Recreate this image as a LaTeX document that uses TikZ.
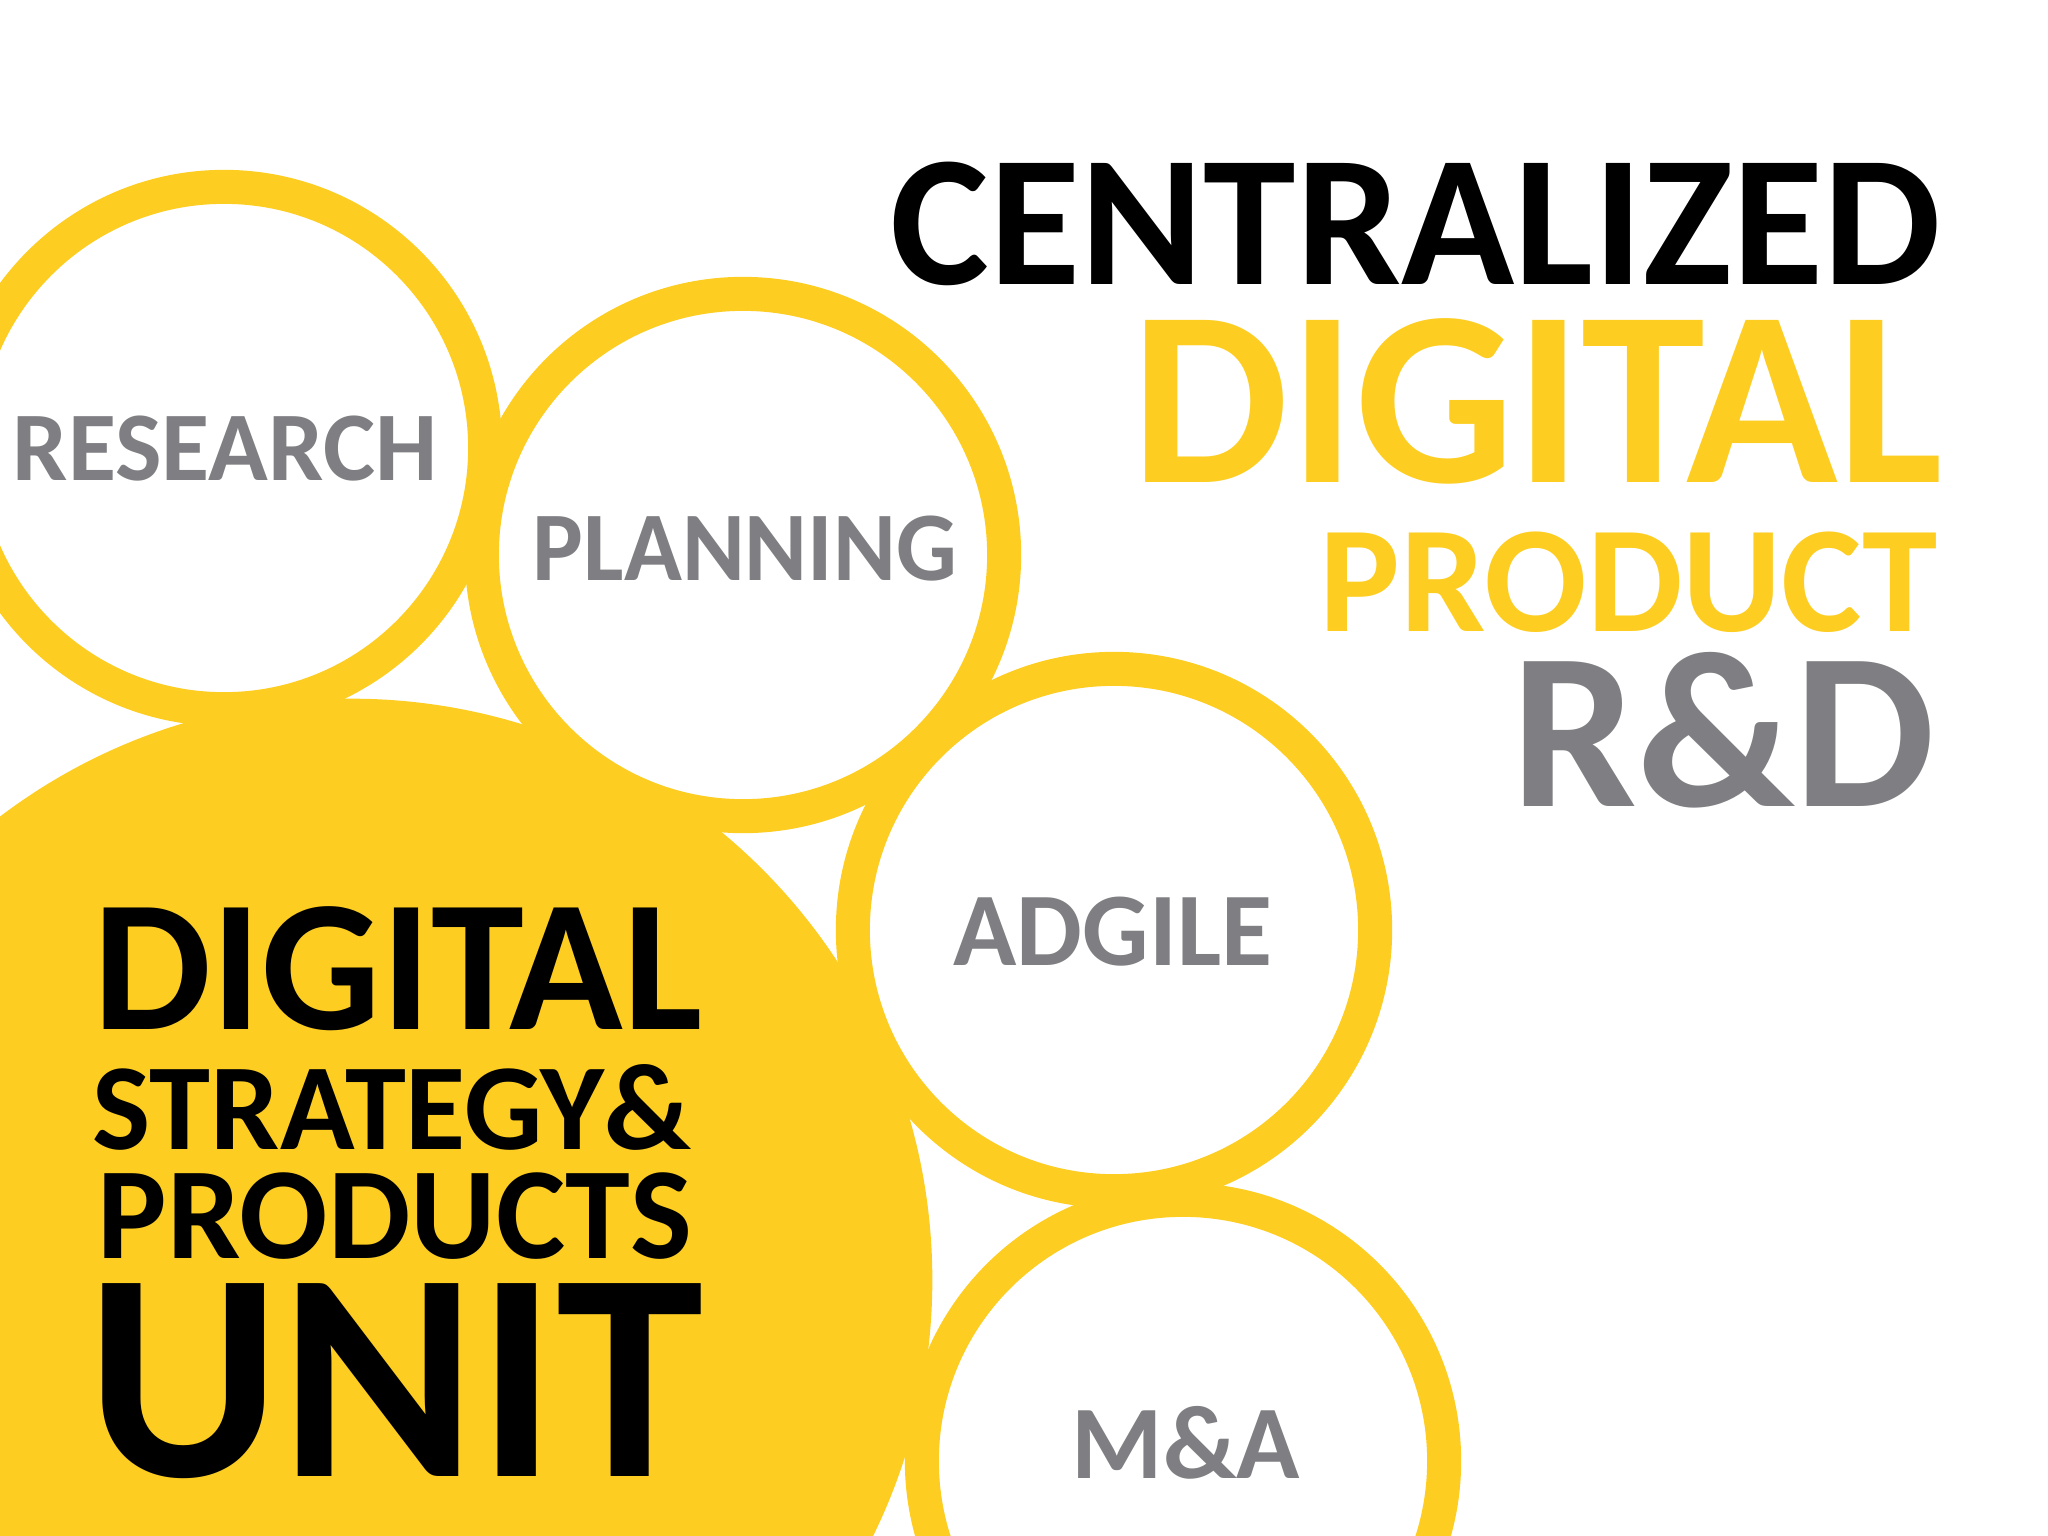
\documentclass[tikz,border=0pt]{standalone}
\usepackage{fontspec}
\setmainfont{Carlito}
\definecolor{unityellow}{HTML}{FDCD21}
\definecolor{unitgray}{HTML}{7F7E82}

\begin{document}
\begin{tikzpicture}
                [
                x=0.01cm, y=-0.01cm,
                every node/.style={inner sep=0pt, font=\bfseries},
                ring/.style={circle, draw=unityellow, line width=0.34cm, fill=white, minimum size=5.22cm},
                ringlabel/.style={text=unitgray, font=\bfseries\fontsize{29.7}{30}\selectfont},
                smalllabel/.style={ringlabel, font=\bfseries\fontsize{28}{29}\selectfont},
                titleline/.style={anchor=base east},
                unitline/.style={anchor=base west, text=black}
                ]
                \useasboundingbox (0,0) rectangle (2048,1536);
                \clip (0,0) rectangle (2048,1536);
                % Big yellow disc
                \node[circle, fill=unityellow, minimum size=11.62cm] (unit) at (351,1280) {};
                % Rings
                \node[ring] (research) at (224,448) {};
                \node[ring] (planning) at (743,555) {};
                \node[ring] (adgile) at (1114,930) {};
                \node[ring] (ma) at (1183,1461) {};
                % Ring labels
                \node[smalllabel] (researchlabel) at (225,449) {RESEARCH};
                \node[smalllabel, xscale=0.97] (planninglabel) at (745,549) {PLANNING};
                \node[ringlabel] (adgilelabel) at (1113,932) {ADGILE};
                \node[ringlabel] (malabel) at (1186,1443) {M\&A};
                % Title
                \node[titleline, font=\bfseries\fontsize{53.1}{54}\selectfont] (centralized) at (1942,284) {CENTRALIZED};
                \node[titleline, text=unityellow, font=\bfseries\fontsize{71.1}{72}\selectfont] (digitaltitle) at (1944,482) {DIGITAL};
                \node[titleline, text=unityellow, font=\bfseries\fontsize{43.2}{44}\selectfont] (product) at (1939,631) {PRODUCT};
                \node[titleline, text=unitgray, font=\bfseries\fontsize{63.5}{64}\selectfont] (rnd) at (1936,806) {R\&D};
                % Text in the disc
                \node[unitline, font=\bfseries\fontsize{53.3}{54}\selectfont] (digitalunit) at (93,1029) {DIGITAL};
                \node[unitline, font=\bfseries\fontsize{35}{36}\selectfont] (strategy) at (92,1149) {STRATEGY\&};
                \node[unitline, font=\bfseries\fontsize{37.2}{38}\selectfont] (products) at (97,1258) {PRODUCTS};
                \node[unitline, font=\bfseries\fontsize{84.6}{85}\selectfont] (unitword) at (86,1476) {UNIT};
            \end{tikzpicture}
\end{document}
